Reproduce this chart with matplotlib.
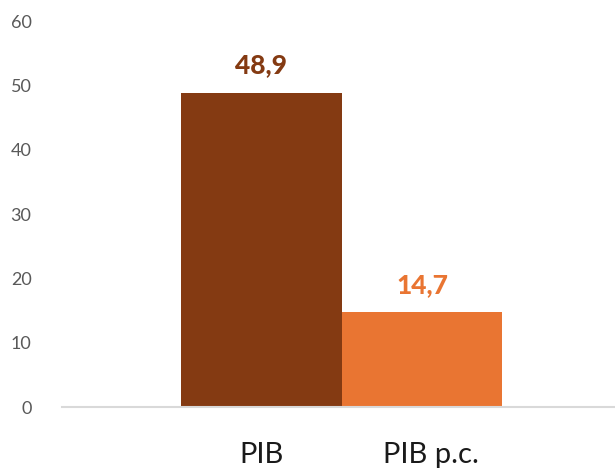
import matplotlib
matplotlib.use("Agg")
import matplotlib.pyplot as plt
from matplotlib.transforms import ScaledTranslation

# DATA ----------------------------------------------------------------------

categories = ["PIB", "PIB p.c."]
values = [48.9, 14.7]
value_labels = ["48,9", "14,7"]
colors = ["#843A12", "#E97532"]
yticks = [0, 10, 20, 30, 40, 50, 60]

# PLOT ----------------------------------------------------------------------

plt.rcParams['font.family'] = ['Lato', 'DejaVu Sans']

fig = plt.figure(figsize=(6.15, 4.70), dpi=100)
ax = fig.add_axes([0.101, 0.134, 0.899, 0.821])

x = list(range(len(categories)))
ax.bar(x, values, width=1.0, color=colors)

for xi, v, lab, c in zip(x, values, value_labels, colors):
    ax.annotate(lab, (xi, v), xytext=(0, 11), textcoords="offset points",
                ha="center", va="bottom", fontsize=19, fontweight="black", color=c)

ax.set_xlim(-1.24, 2.2)
ax.set_ylim(0, 60)
ax.set_yticks(yticks)
ax.set_yticklabels([str(t) for t in yticks], fontsize=13, color="#595959")
ax.set_xticks(x)
ax.set_xticklabels(categories, fontsize=21, color="#1a1a1a")
ax.tick_params(axis="both", length=0)
ax.tick_params(axis="x", pad=25)
ax.tick_params(axis="y", pad=22)

# second category label sits a bit right of its bar centre
lbl = ax.get_xticklabels()[1]
lbl.set_transform(lbl.get_transform() + ScaledTranslation(0.09, 0, fig.dpi_scale_trans))

for s in ["top", "right", "left"]:
    ax.spines[s].set_visible(False)
ax.spines["bottom"].set_color("#d9d9d9")
ax.spines["bottom"].set_linewidth(1.5)

fig.savefig("out.png", dpi=100)
